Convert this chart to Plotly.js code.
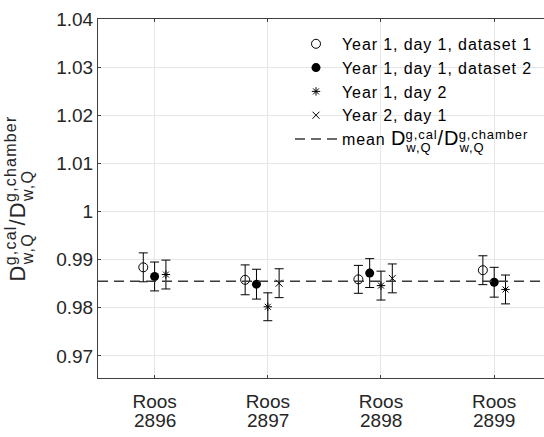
<!DOCTYPE html>
<html><head><meta charset="utf-8">
<script src="https://cdn.plot.ly/plotly-3.0.1.min.js"></script>
<style>html,body{margin:0;padding:0;background:#fff}#chart{width:544px;height:437px}</style>
</head><body><div id="chart"></div>
<script>
// ---- data ----
const chamberType = 'Roos';
const serials = ['2896', '2897', '2898', '2899'];
const seriesNames = ['Year 1, day 1, dataset 1', 'Year 1, day 1, dataset 2', 'Year 1, day 2', 'Year 2, day 1'];
const ratioY1D1S1 = [0.9884, 0.9858, 0.9859, 0.9878];
const errY1D1S1   = [0.0030, 0.0031, 0.0029, 0.0030];
const ratioY1D1S2 = [0.9865, 0.9849, 0.9872, 0.9853];
const errY1D1S2   = [0.0030, 0.0031, 0.0030, 0.0031];
const ratioY1D2   = [0.9869, 0.9802, 0.9846, 0.9838];
const errY1D2     = [0.0030, 0.0029, 0.0030, 0.0030];
const ratioY2D1   = [null, 0.9851, 0.9861, null];
const errY2D1     = [null, 0.0030, 0.0030, null];
const meanRatio = 0.9855;
const yTicks = [0.97, 0.98, 0.99, 1, 1.01, 1.02, 1.03, 1.04];

// ---- styling ----
const FONT = 'Liberation Sans, Arial, Helvetica, sans-serif';
const TXT = '#262626';
const AX = '#404040';
const symbols = [
  {symbol: 'circle-open', size: 9, line: {width: 1, color: '#000'}, color: '#000'},
  {symbol: 'circle', size: 9, line: {width: 0}, color: '#000'},
  {symbol: 'asterisk-open', size: 7, line: {width: 1, color: '#000'}, color: '#000'},
  {symbol: 'x-thin-open', size: 7, line: {width: 1, color: '#000'}, color: '#000'}
];
const allY = [ratioY1D1S1, ratioY1D1S2, ratioY1D2, ratioY2D1];
const allE = [errY1D1S1, errY1D1S2, errY1D2, errY2D1];

// group offsets: series present at a category are spread by 0.1 around it
const step = 0.1;
const xPos = allY.map(() => serials.map(() => null));
serials.forEach((s, i) => {
  const present = allY.map((arr, k) => arr[i] != null ? k : -1).filter(k => k >= 0);
  present.forEach((k, r) => {
    xPos[k][i] = (i + 1) + (r - Math.floor(present.length / 2)) * step;
  });
});

// D^{g,cal}_{w,Q}/D^{g,chamber}_{w,Q} with stacked super/subscripts
function ratioLabel(main, small, ls, subShift) {
  const span = (txt, sz, extra) => `<span style="font-size:${sz}px;letter-spacing:${ls}px${extra || ''}">${txt}</span>`;
  const subW = 1.778 * small + 3 * ls;             // advance of "w,Q"
  const back = `<span style="font-size:${main}px;letter-spacing:-${(subW + 0.278 * main).toFixed(1)}px">\u00a0</span>`;
  const sub = `<sub>${span('w,Q', small, ';baseline-shift:-' + subShift + 'px')}</sub>`;
  return span('D', main) + sub + back + `<sup>${span('g,cal', small)}</sup>` +
         span('/D', main) + sub + back + `<sup>${span('g,chamber', small)}</sup>`;
}
const legendText = t => `<span style="letter-spacing:0.9px">${t}</span>`;

const traces = allY.map((ys, k) => ({
  type: 'scatter', mode: 'markers', name: legendText(seriesNames[k]),
  x: xPos[k], y: ys,
  marker: symbols[k],
  error_y: {type: 'data', array: allE[k], visible: true, color: '#000', thickness: 1, width: 4.5},
  cliponaxis: false
}));
traces.push({
  type: 'scatter', mode: 'lines', name: legendText('mean\u00a0') + ratioLabel(20, 13, 0.9, 3),
  x: [0.5, serials.length + 0.5], y: [meanRatio, meanRatio],
  line: {color: '#3a3a3a', width: 1.6, dash: '10px,6px'}
});

const layout = {
  width: 544, height: 437,
  margin: {l: 98, r: 0, t: 19, b: 59, pad: 0},
  paper_bgcolor: '#fff', plot_bgcolor: '#fff',
  font: {family: FONT, color: TXT},
  showlegend: true,
  legend: {x: 0.4305, xanchor: 'left', y: 0.978, yanchor: 'top', bgcolor: 'rgba(0,0,0,0)',
           itemwidth: 42, font: {family: FONT, size: 16, color: '#000'}, tracegroupgap: 0},
  xaxis: {
    range: [0.5, 4.44], tickmode: 'array', tickvals: serials.map((s, i) => i + 1),
    ticktext: serials.map(() => chamberType),
    showgrid: true, gridcolor: '#e6e6e6', gridwidth: 1, zeroline: false,
    showline: true, linecolor: AX, linewidth: 1, mirror: 'ticks',
    ticks: 'inside', ticklen: 3, tickcolor: AX, ticklabelstandoff: 6,
    tickfont: {family: FONT, size: 19, color: TXT}
  },
  yaxis: {
    range: [0.9654, 1.04], tickmode: 'array', tickvals: yTicks, ticktext: yTicks.map(v => String(v)),
    showgrid: true, gridcolor: '#e6e6e6', gridwidth: 1, zeroline: false,
    showline: true, linecolor: AX, linewidth: 1, mirror: false,
    ticks: 'inside', ticklen: 3, tickcolor: AX,
    tickfont: {family: FONT, size: 19, color: TXT},
    title: {text: ratioLabel(22, 16, 1.2, 3), font: {family: FONT, size: 22, color: TXT}, standoff: 24}
  },
  annotations: serials.map((s, i) => ({
    x: i + 1, xref: 'x', y: 0, yref: 'paper', yanchor: 'top', yshift: -30,
    text: s, showarrow: false, font: {family: FONT, size: 19, color: TXT}
  }))
};

Plotly.newPlot('chart', traces, layout, {displayModeBar: false, staticPlot: true});
</script>
</body></html>
